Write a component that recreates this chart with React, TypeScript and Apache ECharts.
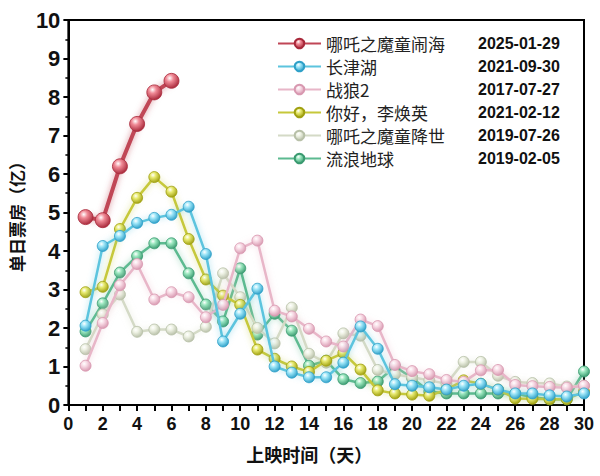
import React, { useEffect, useRef } from "react";
import * as echarts from "echarts";

const days = [1, 2, 3, 4, 5, 6, 7, 8, 9, 10, 11, 12, 13, 14, 15, 16, 17, 18, 19, 20, 21, 22, 23, 24, 25, 26, 27, 28, 29, 30];

const seriesNames = ["哪吒之魔童闹海", "长津湖", "战狼2", "你好，李焕英", "哪吒之魔童降世", "流浪地球"];
const releaseDates = ["2025-01-29", "2021-09-30", "2017-07-27", "2021-02-12", "2019-07-26", "2019-02-05"];

const nezha2 = [4.88, 4.8, 6.2, 7.3, 8.12, 8.42];
const changjinhu = [2.06, 4.13, 4.39, 4.73, 4.86, 4.94, 5.15, 3.92, 1.65, 2.37, 3.02, 1.0, 0.84, 0.72, 0.72, 1.1, 2.04, 1.46, 0.54, 0.5, 0.46, 0.4, 0.5, 0.55, 0.4, 0.3, 0.3, 0.25, 0.22, 0.3];
const zhanlang2 = [1.02, 2.13, 3.11, 3.66, 2.74, 2.93, 2.8, 2.28, 2.6, 4.07, 4.27, 2.45, 2.3, 1.98, 1.65, 1.52, 2.22, 2.05, 1.04, 0.88, 0.8, 0.65, 0.6, 0.9, 0.91, 0.52, 0.49, 0.47, 0.45, 0.5];
const nihao = [2.93, 3.07, 4.57, 5.38, 5.92, 5.54, 4.31, 3.26, 2.84, 2.6, 1.44, 1.2, 1.0, 0.86, 1.15, 1.35, 0.92, 0.38, 0.3, 0.27, 0.24, 0.4, 0.64, 0.55, 0.4, 0.17, 0.16, 0.15, 0.15, 0.35];
const nezha1 = [1.45, 2.35, 2.87, 1.9, 1.96, 1.96, 1.78, 2.03, 3.42, 2.8, 2.0, 1.6, 2.53, 1.33, 1.1, 1.86, 1.8, 0.91, 0.8, 0.72, 0.64, 0.55, 1.12, 1.12, 0.76, 0.6, 0.57, 0.56, 0.48, 0.5];
const liulang = [1.91, 2.64, 3.44, 3.87, 4.2, 4.2, 3.42, 2.61, 2.17, 3.55, 1.83, 2.37, 1.93, 1.02, 1.15, 0.67, 0.57, 0.61, 1.0, 0.7, 0.35, 0.3, 0.3, 0.3, 0.3, 0.3, 0.2, 0.15, 0.15, 0.87];

const allValues = [nezha2, changjinhu, zhanlang2, nihao, nezha1, liulang];

const lineColors = ["#c04656", "#5cc4de", "#e8b6c8", "#c6c83a", "#d4dac6", "#5cba90"];
const dotLight = ["#f08a96", "#9ee6f8", "#f8dce6", "#e8ea70", "#eef2e4", "#9ce8c0"];
const dotDark = ["#a8283a", "#2ea0c8", "#d898b0", "#a0a010", "#b8c0a8", "#3a9a70"];
const lineWidths = [4, 2.5, 2.5, 2.5, 2.5, 2.5];
const symbolSizes = [15, 11, 11, 11, 11, 11];

export default function App() {
  const ref = useRef<HTMLDivElement>(null);
  useEffect(() => {
    if (!ref.current) return;
    const chart = echarts.init(ref.current, null, { renderer: "svg" });
    const order = [5, 4, 2, 3, 1, 0];
    const series = order.map((i) => ({
      name: seriesNames[i],
      type: "line",
      data: allValues[i].map((v, k) => [days[k], v]),
      symbol: "circle",
      symbolSize: symbolSizes[i],
      z: 2 + (5 - i),
      lineStyle: {
        color: lineColors[i],
        width: lineWidths[i],
        shadowBlur: 6,
        shadowColor: lineColors[i] + "99",
      },
      itemStyle: {
        color: new echarts.graphic.RadialGradient(0.38, 0.32, 0.7, [
          { offset: 0, color: "#ffffff" },
          { offset: 0.35, color: dotLight[i] },
          { offset: 1, color: dotDark[i] },
        ]),
        borderColor: dotDark[i],
        borderWidth: 0.8,
      },
    }));
    const dateMap: Record<string, string> = {};
    seriesNames.forEach((n, i) => (dateMap[n] = releaseDates[i]));
    chart.setOption({
      animation: false,
      backgroundColor: "#ffffff",
      grid: { left: 62, right: 16, top: 20, bottom: 71, show: true, borderColor: "#000", borderWidth: 2, backgroundColor: "transparent" },
      legend: {
        data: seriesNames,
        orient: "vertical",
        left: 277,
        top: 35,
        padding: 0,
        itemWidth: 43,
        itemHeight: 12,
        itemGap: 6,
        formatter: (name: string) => `{n|${name}}{d|${dateMap[name]}}`,
        textStyle: {
          rich: {
            n: { width: 152, fontSize: 17, color: "#222", fontFamily: "Noto Sans CJK SC" },
            d: { fontSize: 16, fontWeight: "bold", color: "#111", fontFamily: "Liberation Sans" },
          },
        },
      },
      xAxis: {
        type: "value",
        min: 0,
        max: 30,
        interval: 2,
        axisLine: { show: true, onZero: false, lineStyle: { color: "#000", width: 2 } },
        axisTick: { show: true, length: 6, lineStyle: { color: "#000", width: 2 } },
        minorTick: { show: true, splitNumber: 2, length: 6, lineStyle: { color: "#000", width: 2 } },
        splitLine: { show: false },
        axisLabel: { color: "#111", fontSize: 18, fontWeight: "bold", fontFamily: "Liberation Sans", margin: 10 },
        name: "上映时间（天）",
        nameLocation: "middle",
        nameGap: 40,
        nameTextStyle: { color: "#111", fontSize: 18, fontWeight: "bold", fontFamily: "Noto Sans CJK SC", padding: [0, 34, 0, 0] },
      },
      yAxis: {
        type: "value",
        min: 0,
        max: 10,
        interval: 1,
        axisLine: { show: true, onZero: false, lineStyle: { color: "#000", width: 2 } },
        axisTick: { show: true, length: 5, lineStyle: { color: "#000", width: 2 } },
        minorTick: { show: true, splitNumber: 2, length: 3, lineStyle: { color: "#000", width: 1.5 } },
        splitLine: { show: false },
        axisLabel: { color: "#111", fontSize: 22, fontWeight: "bold", fontFamily: "Liberation Sans", margin: 8 },
        name: "单日票房（亿）",
        nameLocation: "middle",
        nameGap: 34,
        nameTextStyle: { color: "#111", fontSize: 17, fontWeight: "bold", fontFamily: "Noto Sans CJK SC" },
      },
      series,
    });
    return () => chart.dispose();
  }, []);
  return <div ref={ref} style={{ position: "absolute", left: 0, top: 0, width: 600, height: 476 }} />;
}
